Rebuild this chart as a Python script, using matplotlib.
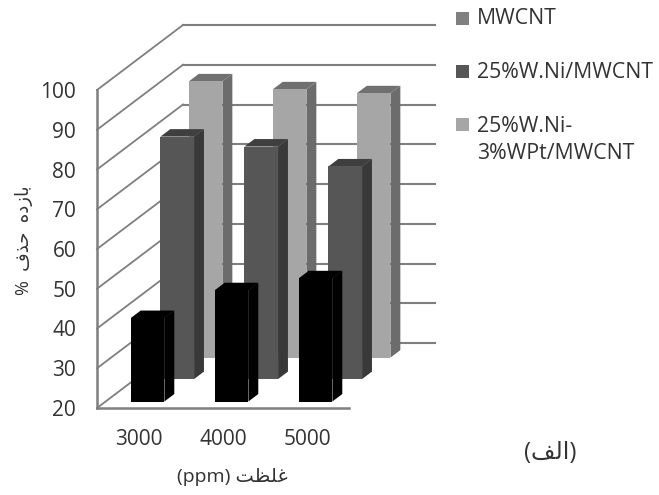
import matplotlib
matplotlib.use('Agg')
from matplotlib import pyplot as plt
from matplotlib.patches import Polygon, Rectangle

plt.rcParams['font.family'] = ['Open Sans', 'DejaVu Sans']

categories = ['3000', '4000', '5000']
y_ticks = [20, 30, 40, 50, 60, 70, 80, 90, 100]
mwcnt = [41, 48, 51]
ni_mwcnt = [81, 78.5, 73.5]
ni_pt_mwcnt = [89.5, 87.5, 86.5]
legend_labels = ['MWCNT', '25%W.Ni/MWCNT', '25%W.Ni-\n3%WPt/MWCNT']
# Arabic is written as presentation forms in visual order, matplotlib has no shaping
x_label = '(ppm) \ufe96\ufec8\ufee0\ufecf'
y_label = '%  \ufed1\ufeac\ufea3  \ufee9\ufea9\ufeaf\ufe8e\ufe91'
panel_label = '(\ufed2\ufedf\ufe8d)'

# depth of the fake 3d box, in axis units
DEPTH_X = 86 / 84
DEPTH_Y = 65 / 3.975
BAR_WIDTH = 0.40
BAR_DEPTH = 0.115
GRID = '#7f7f7f'


def draw_bar(ax, x, value, depth, front, side, top, zorder):
    left, right = x - BAR_WIDTH / 2, x + BAR_WIDTH / 2
    x0, y0 = depth * DEPTH_X, 20 + depth * DEPTH_Y
    dx, dy = BAR_DEPTH * DEPTH_X, BAR_DEPTH * DEPTH_Y
    y1 = value + depth * DEPTH_Y
    ax.add_patch(Polygon([(right + x0, y0), (right + x0 + dx, y0 + dy),
                          (right + x0 + dx, y1 + dy), (right + x0, y1)],
                         fc=side, ec='none', zorder=zorder, clip_on=False))
    ax.add_patch(Polygon([(left + x0, y1), (right + x0, y1),
                          (right + x0 + dx, y1 + dy), (left + x0 + dx, y1 + dy)],
                         fc=top, ec='none', zorder=zorder, clip_on=False))
    ax.add_patch(Rectangle((left + x0, y0), BAR_WIDTH, value - 20,
                           fc=front, ec='none', zorder=zorder, clip_on=False))


fig = plt.figure(figsize=(6.59, 4.95), dpi=100)
ax = fig.add_axes([97 / 659, 87 / 495, 252 / 659, 318 / 495])
ax.patch.set_visible(False)
ax.set_xlim(-0.5, 2.5)
ax.set_ylim(20, 100)

# walls
for tick in y_ticks:
    ax.plot([-0.5, -0.5 + DEPTH_X], [tick, tick + DEPTH_Y], color=GRID, lw=1.3,
            clip_on=False, zorder=1)
    ax.plot([-0.5 + DEPTH_X, 2.5 + DEPTH_X], [tick + DEPTH_Y, tick + DEPTH_Y],
            color=GRID, lw=1.5, clip_on=False, zorder=1)

# bars, back row first
for i in range(len(categories)):
    draw_bar(ax, i, ni_pt_mwcnt[i], 0.775, '#a6a6a6', '#6c6c6c', '#707070', 2)
    draw_bar(ax, i, ni_mwcnt[i], 0.445, '#565656', '#393939', '#3f3f3f', 3)
    draw_bar(ax, i, mwcnt[i], 0.10, '#000000', '#000000', '#000000', 4)

for name in ['top', 'right']:
    ax.spines[name].set_visible(False)
for name in ['left', 'bottom']:
    ax.spines[name].set_color(GRID)
    ax.spines[name].set_linewidth(1.8)

ax.set_xticks(range(len(categories)), categories)
ax.set_yticks(y_ticks)
ax.tick_params(length=0, labelsize=15, labelcolor='#333333')
ax.tick_params(axis='x', pad=15)
ax.tick_params(axis='y', pad=15)

fig.text(232 / 659, 1 - 477 / 495, x_label, ha='center', va='center',
         fontsize=14, color='#333333')
fig.text(24 / 659, 1 - 240 / 495, y_label, ha='center', va='center', rotation=90,
         fontsize=13, color='#333333')
fig.text(550 / 659, 1 - 453 / 495, panel_label, ha='center', va='center',
         fontsize=17, color='#333333')

# legend
legend_colors = ['#808080', '#565656', '#a6a6a6']
legend_y = [18, 71, 124]
legend_text_y = [18, 72, 140]
for label, color, y, text_y in zip(legend_labels, legend_colors, legend_y, legend_text_y):
    fig.patches.append(Rectangle((456 / 659, 1 - (y + 6.5) / 495), 13 / 659, 13 / 495,
                                 fc=color, ec='none', transform=fig.transFigure, figure=fig))
    fig.text(477 / 659, 1 - text_y / 495, label, ha='left', va='center', fontsize=15.3,
             color='#333333', linespacing=1.4)

fig.savefig('out.png', dpi=100)
